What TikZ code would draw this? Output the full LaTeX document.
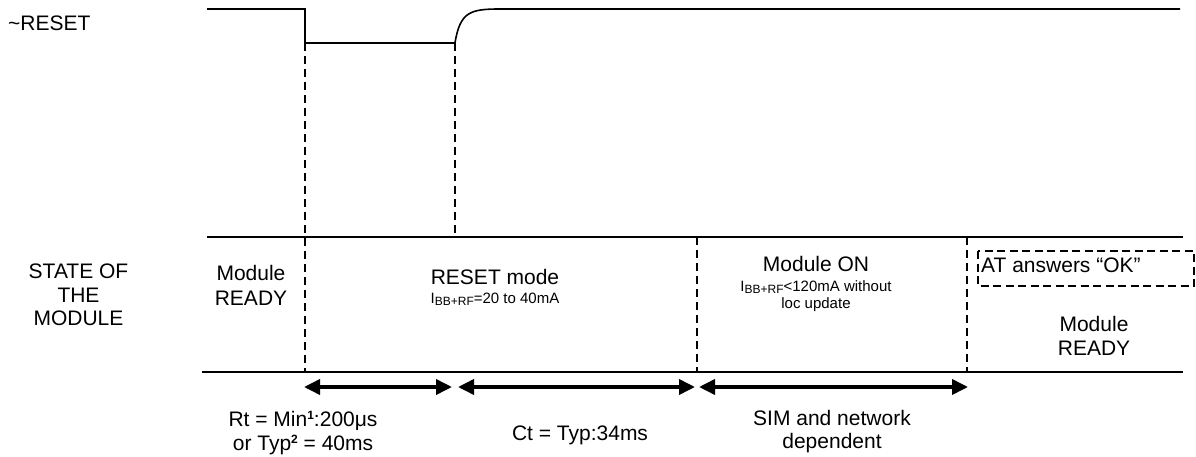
\documentclass[tikz,border=0pt]{standalone}
\usepackage{fontspec}
\setmainfont{Liberation Sans}
\usetikzlibrary{arrows.meta}
\newcommand{\supb}[1]{\raisebox{7pt}{\fontsize{12}{12}\selectfont\bfseries #1}}
\newcommand{\subbb}{\raisebox{-2.5pt}{\fontsize{12}{12}\selectfont BB+RF}}
\begin{document}
\begin{tikzpicture}[x=1pt,y=-1pt,
  sig/.style={line width=1.6pt, line join=miter},
  rule/.style={line width=1.4pt},
  vdash/.style={line width=2.4pt, dash pattern=on 8pt off 5pt},
  boxdash/.style={line width=2.4pt, dash pattern=on 8pt off 4.5pt},
  span/.style={line width=3.6pt, {Triangle[length=16pt,width=15pt]}-{Triangle[length=16pt,width=15pt]}},
  big/.style={font=\fontsize{21}{24}\selectfont, inner sep=0pt, anchor=base},
  small/.style={font=\fontsize{15}{17}\selectfont, inner sep=0pt, anchor=base}]
\useasboundingbox (0,0) rectangle (1196,457);
% signal points
\coordinate (s0) at (207,9);
\coordinate (s1) at (305,9);
\coordinate (s2) at (305,43);
\coordinate (s3) at (455,43);
\coordinate (s4) at (500,9);
\coordinate (s5) at (1180,9);
\draw[sig] (s0) -- (s1) -- (s2) -- (s3) .. controls (460,12) and (470,9) .. (s4) -- (s5);
% horizontal rules
\coordinate (a0) at (207,237);
\coordinate (a1) at (1183,237);
\coordinate (b0) at (202,372);
\coordinate (b1) at (1183,372);
\draw[rule] (a0) -- (a1);
\draw[rule] (b0) -- (b1);
% dashed verticals
\coordinate (d1b) at (305,372);
\coordinate (d2t) at (455,43);
\coordinate (d2b) at (455,237);
\coordinate (d3t) at (697,237);
\coordinate (d3b) at (697,372);
\coordinate (d4t) at (967,237);
\coordinate (d4b) at (967,372);
\draw[vdash] (s2) -- (d1b);
\draw[vdash] (d2t) -- (d2b);
\draw[vdash] (d3t) -- (d3b);
\draw[vdash] (d4t) -- (d4b);
% dashed box
\coordinate (bx0) at (978,251);
\coordinate (bx1) at (1194,286);
\draw[boxdash] (bx0) rectangle (bx1);
% span arrows
\coordinate (r0) at (304,387);
\coordinate (r1) at (452,387);
\coordinate (c0) at (458,387);
\coordinate (c1) at (695,387);
\coordinate (n0) at (699,387);
\coordinate (n1) at (968,387);
\draw[span] (r0) -- (r1);
\draw[span] (c0) -- (c1);
\draw[span] (n0) -- (n1);
% texts
\node[big, anchor=base west] (reset) at (8,31) {\textasciitilde RESET};
\node[big] (st1) at (78.5,278) {STATE OF};
\node[big] (st2) at (78.5,302) {THE};
\node[big] (st3) at (78.5,325.5) {MODULE};
\node[big] (mr1) at (251,280) {Module};
\node[big] (mr2) at (251,305) {READY};
\node[big] (rm) at (495,284) {RESET mode};
\node[small] (rmi) at (495,303) {I\subbb=20 to 40mA};
\node[big] (mon) at (816,271.5) {Module ON};
\node[small] (moni1) at (816,291) {I\subbb<120mA without};
\node[small] (moni2) at (816,308) {loc update};
\node[big, anchor=base west] (at) at (981,272) {AT answers “OK”};
\node[big] (rr1) at (1094,331) {Module};
\node[big] (rr2) at (1094,355) {READY};
\node[big] (rt1) at (303,426.5) {Rt = Min\supb{1}:200μs};
\node[big] (rt2) at (303,450) {or Typ\supb{2} = 40ms};
\node[big] (ct) at (580,440) {Ct = Typ:34ms};
\node[big] (sim1) at (832,425) {SIM and network};
\node[big] (sim2) at (832,448) {dependent};
\end{tikzpicture}
\end{document}
